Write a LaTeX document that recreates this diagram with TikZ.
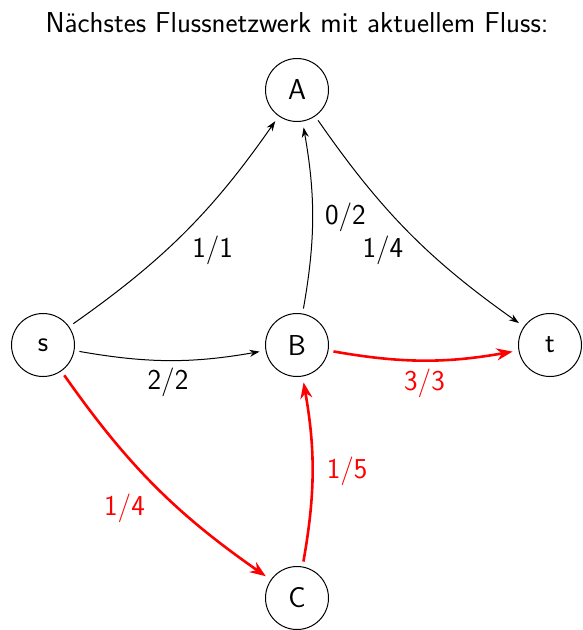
\documentclass[tikz,border=0pt]{standalone}
\usetikzlibrary{arrows.meta}
\begin{document}
\begin{tikzpicture}[x=1pt,y=-1pt,
  vtx/.style={circle,draw,line width=1pt,minimum size=63pt,inner sep=0pt,font=\sffamily\fontsize{28.8}{34}\selectfont},
  fl/.style={->,>={Stealth[length=10pt,width=7pt]},line width=1pt,bend right=10,shorten >=6pt,shorten <=5pt},
  fr/.style={fl,draw=red,line width=2.6pt,>={Stealth[length=16pt,width=12pt]}},
  lbl/.style={font=\sffamily\fontsize{28.8}{34}\selectfont,inner sep=0pt},
]
\useasboundingbox (0,0) rectangle (583,630);
\node[font=\sffamily\fontsize{28.8}{34}\selectfont,anchor=base] (title) at (297,32) {Nächstes Flussnetzwerk mit aktuellem Fluss:};
\node[vtx] (A) at (297,90) {A};
\node[vtx] (s) at (43,345) {s};
\node[vtx] (B) at (297,345) {B};
\node[vtx] (t) at (550,345) {t};
\node[vtx] (C) at (297,598) {C};
\draw[fl] (s) to node[lbl,shift={(28,18)}] {1/1} (A);
\draw[fl] (s) to node[lbl,shift={(-2,22)}] {2/2} (B);
\draw[fl] (B) to node[lbl,shift={(33,0)}] {0/2} (A);
\draw[fl] (A) to node[lbl,shift={(-26,18)}] {1/4} (t);
\draw[fr] (B) to node[lbl,text=red,shift={(1,23)}] {3/3} (t);
\draw[fr] (C) to node[lbl,text=red,shift={(35,0)}] {1/5} (B);
\draw[fr] (s) to node[lbl,text=red,shift={(-31,22)}] {1/4} (C);
\end{tikzpicture}
\end{document}
